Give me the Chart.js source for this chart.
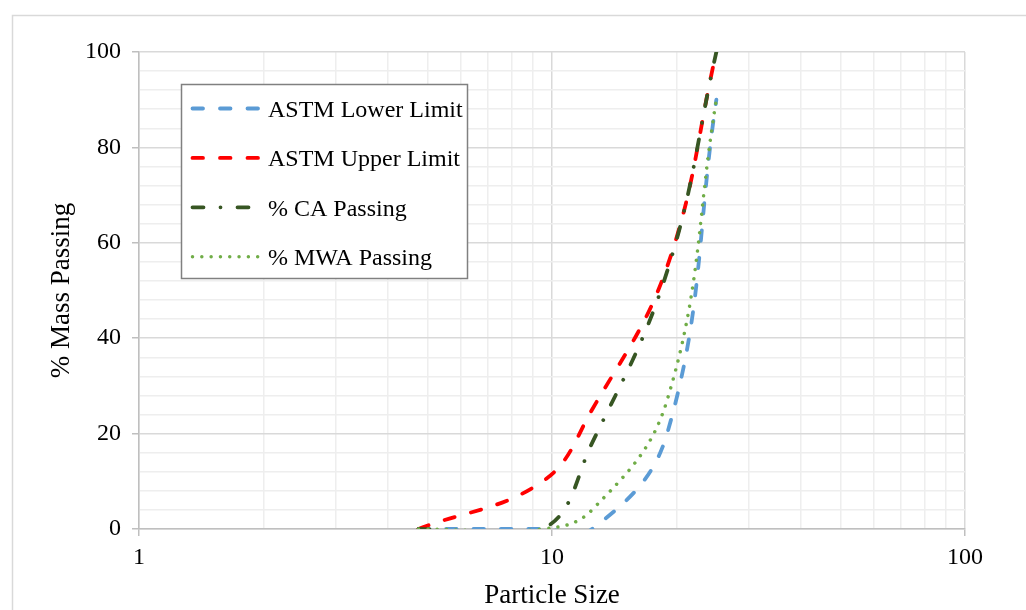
<!DOCTYPE html>
<html>
<head>
<meta charset="utf-8">
<title>Particle size distribution</title>
<script src="https://cdn.jsdelivr.net/npm/chart.js@4.4.1/dist/chart.umd.min.js"></script>
<style>
  html, body { margin: 0; padding: 0; background: #ffffff; }
  #wrap { width: 1026px; height: 610px; }
</style>
</head>
<body>
<div id="wrap"><canvas id="grading" width="1026" height="610"></canvas></div>
<script>
// Sieve sizes (mm) and cumulative % passing for each curve
const particleSizes = [4.75, 9.5, 12.5, 19, 25];
const astmLower     = [0, 0, 0, 20, 90];
const astmUpper     = [0, 10, 25, 55, 100];
const caPassing     = [0, 0, 18, 54, 100];
const mwaPassing    = [0, 0, 4, 27, 90];

const seriesNames = ['ASTM Lower Limit', 'ASTM Upper Limit', '% CA Passing', '% MWA Passing'];

// Axis ticks: grid positions and which ones carry a label
const xGridValues = [1, 2, 3, 4, 5, 6, 7, 8, 9, 10, 20, 30, 40, 50, 60, 70, 80, 90, 100];
const xTickLabels = [1, 10, 100];
const yTickLabels = [0, 20, 40, 60, 80, 100];
const yGridStep = 4;

const xTitle = 'Particle Size';
const yTitle = '% Mass Passing';

const SERIF = '"Liberation Serif", "Times New Roman", serif';

function toPoints(values) {
  return particleSizes.map((x, i) => ({ x: x, y: values[i] }));
}

const lineCommon = {
  pointRadius: 0,
  pointHoverRadius: 0,
  tension: 0.4,
  fill: false,
  borderWidth: 3.8,
  borderCapStyle: 'round',
  borderJoinStyle: 'round'
};

const datasets = [
  Object.assign({}, lineCommon, { label: seriesNames[0], data: toPoints(astmLower),  borderColor: '#5B9BD5', borderDash: [10.5, 17], order: 4 }),
  Object.assign({}, lineCommon, { label: seriesNames[1], data: toPoints(astmUpper),  borderColor: '#FF0000', borderDash: [10.5, 17], order: 3 }),
  Object.assign({}, lineCommon, { label: seriesNames[2], data: toPoints(caPassing),  borderColor: '#375623', borderDash: [11, 17, 0.01, 17], order: 2 }),
  Object.assign({}, lineCommon, { label: seriesNames[3], data: toPoints(mwaPassing), borderColor: '#70AD47', borderWidth: 3.5, borderDash: [0.01, 9.3], order: 1 })
];

// White page with the light chart frame along the top and left
const frame = {
  id: 'frame',
  beforeDraw(chart) {
    const ctx = chart.ctx;
    ctx.save();
    ctx.fillStyle = '#ffffff';
    ctx.fillRect(0, 0, chart.width, chart.height);
    ctx.strokeStyle = '#d9d9d9';
    ctx.lineWidth = 1.5;
    ctx.beginPath();
    ctx.moveTo(12.5, chart.height + 2);
    ctx.lineTo(12.5, 15.5);
    ctx.lineTo(chart.width + 2, 15.5);
    ctx.stroke();
    ctx.restore();
  }
};

// Boxed legend placed inside the plot area
const boxedLegend = {
  id: 'boxedLegend',
  afterDraw(chart) {
    const ctx = chart.ctx;
    const area = chart.chartArea;
    const left = area.left + 42.5, top = area.top + 32.5, w = 286, h = 194;
    ctx.save();
    ctx.fillStyle = '#ffffff';
    ctx.fillRect(left, top, w, h);
    ctx.strokeStyle = '#808080';
    ctx.lineWidth = 1.5;
    ctx.strokeRect(left, top, w, h);

    const x0 = left + 11, x1 = left + 78, textX = left + 86.5;
    const firstY = top + 24, gap = 49.4;
    ctx.font = '24px ' + SERIF;
    ctx.textBaseline = 'alphabetic';
    ctx.textAlign = 'left';
    seriesNames.forEach((name, i) => {
      const ds = chart.data.datasets.find(d => d.label === name);
      const y = firstY + i * gap;
      ctx.strokeStyle = ds.borderColor;
      ctx.lineWidth = ds.borderWidth;
      ctx.lineCap = 'round';
      ctx.setLineDash(ds.borderDash);
      ctx.beginPath();
      ctx.moveTo(x0, y);
      ctx.lineTo(x1, y);
      ctx.stroke();
      ctx.setLineDash([]);
      ctx.fillStyle = '#000000';
      ctx.fillText(name, textX, y + 8.5);
    });
    ctx.restore();
  }
};

new Chart(document.getElementById('grading'), {
  type: 'line',
  data: { datasets: datasets },
  plugins: [frame, boxedLegend],
  options: {
    responsive: false,
    animation: false,
    devicePixelRatio: 1,
    layout: { padding: { left: 0, top: 52, right: 61, bottom: 0 } },
    plugins: {
      legend: { display: false },
      tooltip: { enabled: false }
    },
    scales: {
      x: {
        type: 'logarithmic',
        position: 'bottom',
        min: 1,
        max: 100,
        afterBuildTicks(scale) {
          scale.ticks = xGridValues.map(v => ({ value: v }));
        },
        afterFit(scale) { scale.height = 81; },
        ticks: {
          autoSkip: false,
          maxRotation: 0,
          minRotation: 0,
          padding: 7,
          color: '#000000',
          font: { family: SERIF, size: 24 },
          callback: (value) => xTickLabels.includes(value) ? String(value) : ''
        },
        grid: {
          lineWidth: 1.5,
          color: (c) => (c.tick && xTickLabels.includes(c.tick.value)) ? '#d9d9d9' : '#eeeeee',
          tickLength: 7,
          tickColor: (c) => (c.tick && xTickLabels.includes(c.tick.value)) ? '#bfbfbf' : 'rgba(0,0,0,0)',
          tickWidth: 1.5
        },
        border: { display: true, color: '#bfbfbf', width: 1.5 },
        title: {
          display: true,
          text: xTitle,
          color: '#000000',
          font: { family: SERIF, size: 27 },
          padding: { top: 0, bottom: -2 }
        }
      },
      y: {
        type: 'linear',
        min: 0,
        max: 100,
        afterFit(scale) { scale.width = 139; },
        ticks: {
          stepSize: yGridStep,
          autoSkip: false,
          padding: 11,
          color: '#000000',
          font: { family: SERIF, size: 24 },
          callback: (value) => yTickLabels.includes(value) ? String(value) : ''
        },
        grid: {
          lineWidth: 1.5,
          color: (c) => (c.tick && yTickLabels.includes(c.tick.value)) ? '#d9d9d9' : '#eeeeee',
          tickLength: 7,
          tickColor: (c) => (c.tick && yTickLabels.includes(c.tick.value)) ? '#bfbfbf' : 'rgba(0,0,0,0)',
          tickWidth: 1.5
        },
        border: { display: true, color: '#bfbfbf', width: 1.5 },
        title: {
          display: true,
          text: yTitle,
          color: '#000000',
          font: { family: SERIF, size: 27 },
          padding: { top: 46, bottom: 0 }
        }
      }
    },
    elements: { line: { capBezierPoints: false } }
  }
});
</script>
</body>
</html>
